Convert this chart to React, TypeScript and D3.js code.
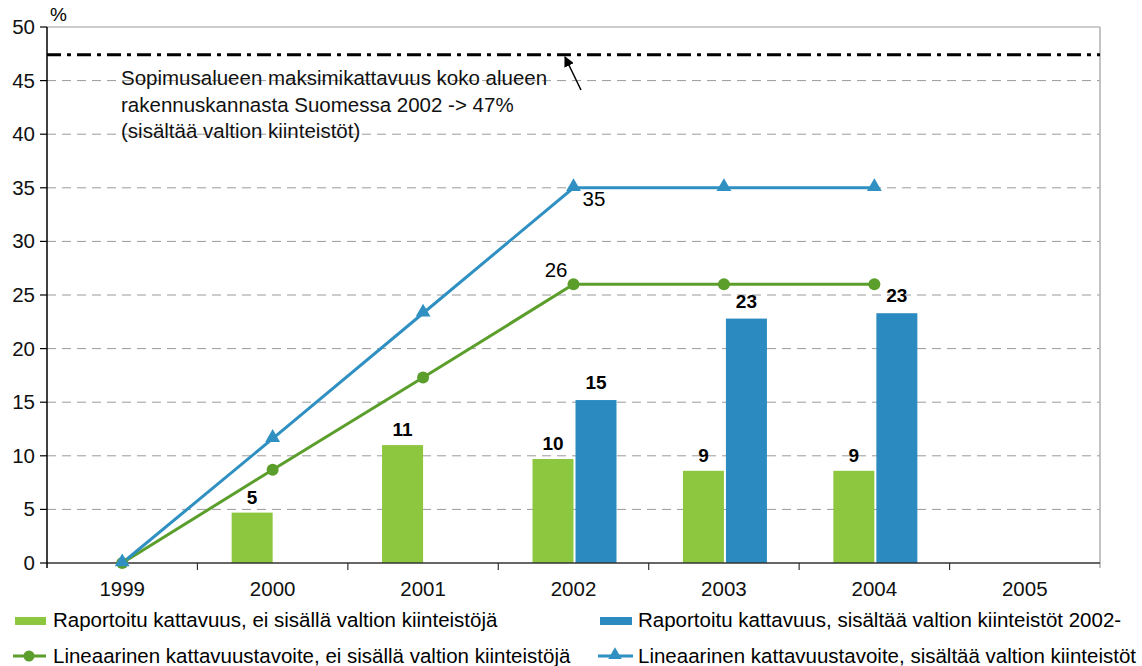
import React, { useRef, useEffect } from 'react';
import * as d3 from 'd3';

const years = ['1999', '2000', '2001', '2002', '2003', '2004', '2005'];
const yTicks = [0, 5, 10, 15, 20, 25, 30, 35, 40, 45, 50];

// bars: reported coverage
const reportedNoState = [null, 4.7, 11.0, 9.7, 8.6, 8.6, null];
const reportedNoStateLabels = [null, '5', '11', '10', '9', '9', null];
const reportedWithState = [null, null, null, 15.2, 22.8, 23.3, null];
const reportedWithStateLabels = [null, null, null, '15', '23', '23', null];

// lines: linear target
const targetNoState = [0, 8.7, 17.3, 26, 26, 26, null];
const targetWithState = [0, 11.6, 23.3, 35, 35, 35, null];

const maxCoverage = 47.4;
const noteLines = [
  'Sopimusalueen maksimikattavuus koko alueen',
  'rakennuskannasta Suomessa 2002 -> 47%',
  '(sisältää valtion kiinteistöt)',
];

const legendLabels = [
  'Raportoitu kattavuus, ei sisällä valtion kiinteistöjä',
  'Raportoitu kattavuus, sisältää valtion kiinteistöt 2002-',
  'Lineaarinen kattavuustavoite, ei sisällä valtion kiinteistöjä',
  'Lineaarinen kattavuustavoite, sisältää valtion kiinteistöt',
];

const GREEN_BAR = '#8dc63f';
const BLUE_BAR = '#2b8bc0';
const GREEN_LINE = '#5b9e2b';
const BLUE_LINE = '#2f90c1';
const FONT = '"Liberation Sans", Arial, sans-serif';
const FS = '20.5px';

const App = () => {
  const svgRef = useRef<SVGSVGElement>(null);
  const width = 1142;
  const height = 666;

  useEffect(() => {
    const svg = d3.select(svgRef.current);
    svg.selectAll('*').remove();

    const left = 47, right = 1100, top = 27, bottom = 563;

    const x = d3.scaleBand().domain(years).range([left, right]);
    const y = d3.scaleLinear().domain([0, 50]).range([bottom, top]);
    const cx = (yr: string) => (x(yr) as number) + x.bandwidth() / 2;

    const defs = svg.append('defs');
    defs.append('marker')
      .attr('id', 'arrowhead')
      .attr('viewBox', '0 0 10 10')
      .attr('refX', 9).attr('refY', 5)
      .attr('markerWidth', 7).attr('markerHeight', 7)
      .attr('orient', 'auto')
      .append('path')
      .attr('d', 'M0,0 L10,5 L0,10 Z')
      .attr('fill', '#000');

    // grid lines
    svg.append('g')
      .selectAll('line')
      .data(yTicks.filter(d => d > 0 && d < 50))
      .enter()
      .append('line')
      .attr('x1', left).attr('x2', right)
      .attr('y1', d => y(d)).attr('y2', d => y(d))
      .attr('stroke', '#9a9a9a')
      .attr('stroke-width', 1)
      .attr('stroke-dasharray', '9,6');

    // top and right frame
    svg.append('line')
      .attr('x1', left).attr('x2', right)
      .attr('y1', y(50)).attr('y2', y(50))
      .attr('stroke', '#9a9a9a').attr('stroke-width', 1);
    svg.append('line')
      .attr('x1', right).attr('x2', right)
      .attr('y1', y(50)).attr('y2', bottom + 5)
      .attr('stroke', '#b0b0b0').attr('stroke-width', 1.5);

    // max coverage line
    svg.append('line')
      .attr('x1', left).attr('x2', right)
      .attr('y1', y(maxCoverage)).attr('y2', y(maxCoverage))
      .attr('stroke', '#000')
      .attr('stroke-width', 3)
      .attr('stroke-dasharray', '14,6,4,6');

    // annotation
    const note = svg.append('text')
      .attr('x', 121).attr('y', 85)
      .style('font-family', FONT)
      .style('font-size', FS)
      .style('fill', '#111');
    noteLines.forEach((t, i) => {
      note.append('tspan').attr('x', 121).attr('dy', i === 0 ? 0 : 26.5).text(t);
    });
    svg.append('line')
      .attr('x1', 581).attr('y1', 90)
      .attr('x2', 565).attr('y2', 57)
      .attr('stroke', '#000').attr('stroke-width', 1.5)
      .attr('marker-end', 'url(#arrowhead)');

    // bars
    const bw = 41;
    const gBars = svg.append('g');
    years.forEach((yr, i) => {
      const c = cx(yr);
      const v1 = reportedNoState[i];
      if (v1 != null) {
        gBars.append('rect')
          .attr('x', c - bw).attr('y', y(v1))
          .attr('width', bw).attr('height', y(0) - y(v1))
          .attr('fill', GREEN_BAR);
        gBars.append('text')
          .attr('x', c - bw / 2).attr('y', y(v1) - 9)
          .attr('text-anchor', 'middle')
          .style('font-family', FONT).style('font-size', '19px')
          .style('font-weight', 'bold')
          .text(reportedNoStateLabels[i] as string);
      }
      const v2 = reportedWithState[i];
      if (v2 != null) {
        gBars.append('rect')
          .attr('x', c + 2).attr('y', y(v2))
          .attr('width', bw).attr('height', y(0) - y(v2))
          .attr('fill', BLUE_BAR);
        gBars.append('text')
          .attr('x', c + 2 + bw / 2).attr('y', y(v2) - 11)
          .attr('text-anchor', 'middle')
          .style('font-family', FONT).style('font-size', '19px')
          .style('font-weight', 'bold')
          .text(reportedWithStateLabels[i] as string);
      }
    });

    // axes
    svg.append('line')
      .attr('x1', left).attr('x2', right)
      .attr('y1', bottom).attr('y2', bottom)
      .attr('stroke', '#333').attr('stroke-width', 1.5);
    svg.append('line')
      .attr('x1', left).attr('x2', left)
      .attr('y1', top).attr('y2', bottom + 5)
      .attr('stroke', '#000').attr('stroke-width', 1.5);

    const yAxis = svg.append('g');
    yTicks.forEach(t => {
      yAxis.append('line')
        .attr('x1', left - 7).attr('x2', left)
        .attr('y1', y(t)).attr('y2', y(t))
        .attr('stroke', '#000').attr('stroke-width', 1.2);
      yAxis.append('text')
        .attr('x', 35).attr('y', y(t) + 7)
        .attr('text-anchor', 'end')
        .style('font-family', FONT).style('font-size', FS)
        .style('fill', '#111')
        .text(t);
    });
    svg.append('text')
      .attr('x', 50).attr('y', 21)
      .style('font-family', FONT).style('font-size', '19px')
      .text('%');

    const xAxis = svg.append('g');
    years.forEach((yr, i) => {
      const bx = x(yr) as number;
      if (i > 0) {
        xAxis.append('line')
          .attr('x1', bx).attr('x2', bx)
          .attr('y1', bottom).attr('y2', bottom + 7)
          .attr('stroke', '#333').attr('stroke-width', 1.2);
      }
      xAxis.append('text')
        .attr('x', cx(yr)).attr('y', bottom + 33)
        .attr('text-anchor', 'middle')
        .style('font-family', FONT).style('font-size', FS)
        .style('fill', '#111')
        .text(yr);
    });

    // lines
    const line = d3.line<[string, number]>()
      .x(d => cx(d[0]))
      .y(d => y(d[1]));
    const greenPts = years.map((yr, i) => [yr, targetNoState[i]]).filter(d => d[1] != null) as [string, number][];
    const bluePts = years.map((yr, i) => [yr, targetWithState[i]]).filter(d => d[1] != null) as [string, number][];

    svg.append('path')
      .datum(greenPts)
      .attr('d', line)
      .attr('fill', 'none')
      .attr('stroke', GREEN_LINE)
      .attr('stroke-width', 3);
    svg.append('path')
      .datum(bluePts)
      .attr('d', line)
      .attr('fill', 'none')
      .attr('stroke', BLUE_LINE)
      .attr('stroke-width', 3);

    const tri = d3.symbol().type(d3.symbolTriangle).size(95);
    svg.append('g')
      .selectAll('circle')
      .data(greenPts)
      .enter()
      .append('circle')
      .attr('cx', d => cx(d[0])).attr('cy', d => y(d[1]))
      .attr('r', 6)
      .attr('fill', GREEN_LINE);
    svg.append('g')
      .selectAll('path')
      .data(bluePts)
      .enter()
      .append('path')
      .attr('d', tri)
      .attr('transform', d => `translate(${cx(d[0])},${y(d[1]) - 1})`)
      .attr('fill', BLUE_LINE);

    // line value labels at 2002
    svg.append('text')
      .attr('x', cx('2002') + 9).attr('y', y(35) + 18)
      .style('font-family', FONT).style('font-size', FS)
      .text('35');
    svg.append('text')
      .attr('x', cx('2002') - 6).attr('y', y(26) - 7)
      .attr('text-anchor', 'end')
      .style('font-family', FONT).style('font-size', FS)
      .text('26');

    // legend
    const legend = svg.append('g').style('font-family', FONT).style('font-size', FS);
    const row1 = 627, row2 = 663;
    legend.append('rect').attr('x', 15).attr('y', row1 - 10).attr('width', 31).attr('height', 8).attr('fill', GREEN_BAR);
    legend.append('text').attr('x', 53).attr('y', row1).text(legendLabels[0]);
    legend.append('rect').attr('x', 600).attr('y', row1 - 10).attr('width', 32).attr('height', 8).attr('fill', BLUE_BAR);
    legend.append('text').attr('x', 638).attr('y', row1).text(legendLabels[1]);

    legend.append('line').attr('x1', 13).attr('x2', 46).attr('y1', row2 - 7).attr('y2', row2 - 7)
      .attr('stroke', GREEN_LINE).attr('stroke-width', 3);
    legend.append('circle').attr('cx', 29).attr('cy', row2 - 7).attr('r', 5.5).attr('fill', GREEN_LINE);
    legend.append('text').attr('x', 53).attr('y', row2).text(legendLabels[2]);

    legend.append('line').attr('x1', 598).attr('x2', 633).attr('y1', row2 - 7).attr('y2', row2 - 7)
      .attr('stroke', BLUE_LINE).attr('stroke-width', 3);
    legend.append('path').attr('d', d3.symbol().type(d3.symbolTriangle).size(80))
      .attr('transform', `translate(615,${row2 - 8})`).attr('fill', BLUE_LINE);
    legend.append('text').attr('x', 638).attr('y', row2).text(legendLabels[3]);
  }, []);

  return (
    <svg
      ref={svgRef}
      width={width}
      height={height}
      style={{ position: 'absolute', left: 0, top: 0, background: '#fff' }}
    />
  );
};

export default App;
